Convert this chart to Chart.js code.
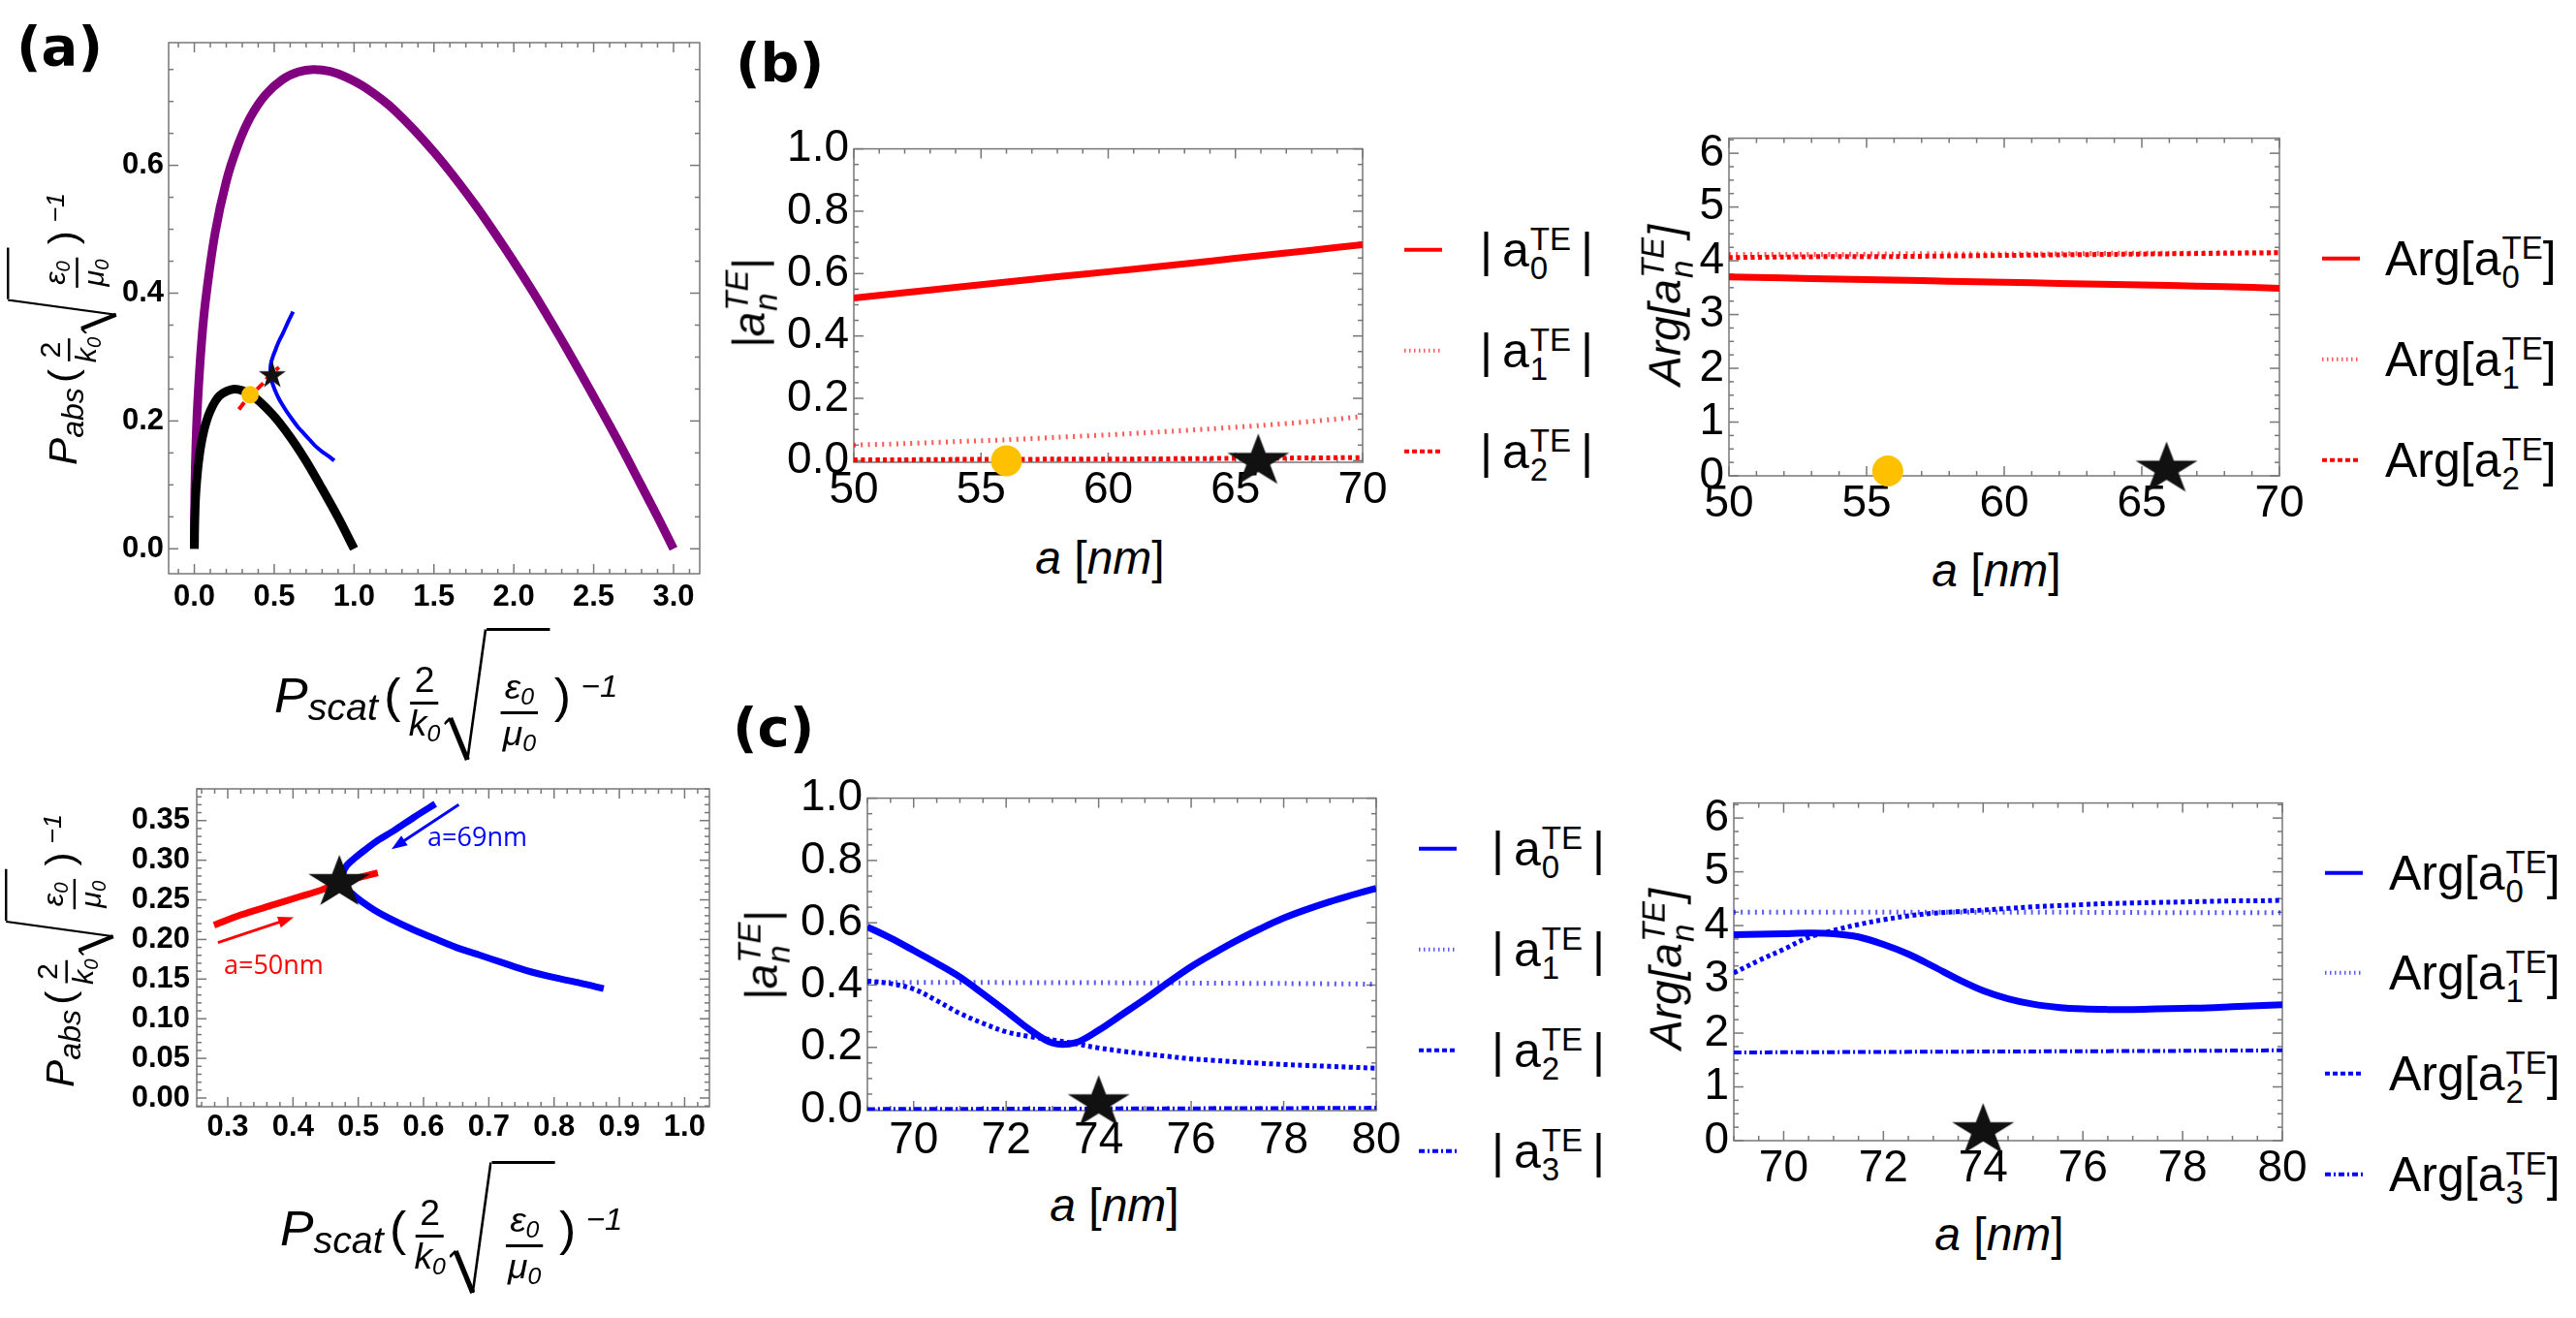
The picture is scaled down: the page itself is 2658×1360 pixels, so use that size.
<!DOCTYPE html>
<html>
<head>
<meta charset="utf-8">
<title>Scattering / absorption and TE coefficients</title>
<script src="https://cdn.jsdelivr.net/npm/chart.js@4.4.1/dist/chart.umd.min.js"></script>
<style>
html, body { margin: 0; padding: 0; background: #fff; }
#page { position: relative; width: 2658px; height: 1360px; overflow: hidden; font-family: "Liberation Sans", Arial, sans-serif; color: #000; }
canvas { position: absolute; }
.plabel { position: absolute; font-family: "DejaVu Sans", sans-serif; font-weight: bold; font-size: 56px; line-height: 1; }
.xt { position: absolute; font-size: 48px; line-height: 1; white-space: nowrap; transform: translate(-50%, -50%); }
.yt { position: absolute; font-size: 46px; line-height: 1; white-space: nowrap; font-style: italic; transform: translate(-50%, -50%) rotate(-90deg); }
.ss { display: inline-flex; flex-direction: column; vertical-align: middle; font-size: 33px; line-height: 0.92; margin-left: 1px; }
.leg { position: absolute; display: flex; align-items: center; white-space: nowrap; font-size: 50px; line-height: 1; transform: translateY(-50%); }
.leg svg { display: block; flex: none; }
.leg .txt { position: relative; top: 4px; }
.mt { position: absolute; left: 0; top: 0; transform-origin: 0 0; display: inline-flex; align-items: center; white-space: nowrap; font-style: italic; font-size: 50px; line-height: 1; height: 140px; }
.mSub { font-size: 38px; position: relative; top: 12px; margin-right: 2px; }
.mPar { font-style: normal; margin: 0 4px; }
.mFrac { display: inline-flex; flex-direction: column; align-items: center; font-size: 36px; line-height: 1.1; font-style: normal; margin: 0 4px; position: relative; top: 8px; }
.mFrac i { font-style: italic; }
.mFrac sub { font-size: 24px; vertical-align: -6px; font-style: italic; }
.mNum { border-bottom: 3px solid #000; padding: 0 4px 2px; }
.mSqrt { display: inline-flex; height: 140px; align-items: stretch; }
.mSqrt svg { display: block; fill: none; stroke: #000; stroke-width: 2.5; }
.mSqrt .thick { stroke-width: 5; }
.mRad { border-top: 3px solid #000; display: flex; align-items: center; padding: 30px 8px 0 10px; }
.mRad .mFrac { top: 0; }
.mExp { align-self: flex-start; margin-top: 44px; font-size: 32px; margin-left: 6px; }
</style>
</head>
<body>
<div id="page">
  <canvas id="chartA1"></canvas>
  <canvas id="chartA2"></canvas>
  <canvas id="chartB1"></canvas>
  <canvas id="chartB2"></canvas>
  <canvas id="chartC1"></canvas>
  <canvas id="chartC2"></canvas>

  <div class="plabel" style="left:17px; top:20px;">(a)</div>
  <div class="plabel" style="left:759px; top:37px;">(b)</div>
  <div class="plabel" style="left:756px; top:723px;">(c)</div>

  <div class="mt" id="titleA1x"></div>
  <div class="mt" id="titleA1y"></div>
  <div class="mt" id="titleA2x"></div>
  <div class="mt" id="titleA2y"></div>

  <div class="xt" style="left:1135px; top:576px;"><i>a</i> [<i>nm</i>]</div>
  <div class="xt" style="left:2060px; top:589px;"><i>a</i> [<i>nm</i>]</div>
  <div class="xt" style="left:1150px; top:1244px;"><i>a</i> [<i>nm</i>]</div>
  <div class="xt" style="left:2063px; top:1274px;"><i>a</i> [<i>nm</i>]</div>

  <div class="yt" style="left:776px; top:313px;">|a<span class="ss"><span>TE</span><span>n</span></span>|</div>
  <div class="yt" style="left:1721px; top:315px;">Arg[a<span class="ss"><span>TE</span><span>n</span></span>]</div>
  <div class="yt" style="left:789px; top:986px;">|a<span class="ss"><span>TE</span><span>n</span></span>|</div>
  <div class="yt" style="left:1722px; top:1000px;">Arg[a<span class="ss"><span>TE</span><span>n</span></span>]</div>

  <div id="legends"></div>
</div>

<script>
// ---- panel (a), upper: bounds and the two trajectories ----
var outerBoundX = [0, 0.003, 0.01, 0.02, 0.043, 0.07, 0.129, 0.2, 0.272, 0.35, 0.444, 0.55, 0.65, 0.744, 0.85, 0.95, 1.074, 1.25, 1.503, 1.75, 1.932, 2.1, 2.219, 2.35, 2.505, 2.65, 2.79, 2.9, 3.0];
var outerBoundY = [0, 0.09, 0.163, 0.225, 0.316, 0.388, 0.493, 0.575, 0.631, 0.675, 0.71, 0.734, 0.746, 0.75, 0.747, 0.738, 0.721, 0.687, 0.62, 0.541, 0.475, 0.41, 0.361, 0.305, 0.236, 0.17, 0.103, 0.05, 0];
var innerBoundX = [0, 0.002, 0.01, 0.03, 0.06, 0.1, 0.16, 0.25, 0.36, 0.49, 0.6, 0.7, 0.8, 0.9, 1.0];
var innerBoundY = [0, 0.043, 0.09, 0.143, 0.185, 0.216, 0.24, 0.25, 0.24, 0.21, 0.175, 0.137, 0.094, 0.049, 0];

// trajectory for a = 50..69 nm (red) and a = 69..80 nm (blue)
var redPathX = [0.279, 0.32, 0.371, 0.41, 0.442, 0.471, 0.5, 0.53];
var redPathY = [0.218, 0.231, 0.244, 0.254, 0.262, 0.272, 0.278, 0.284];
var bluePathX = [0.618, 0.585, 0.554, 0.53, 0.512, 0.495, 0.482, 0.476, 0.478, 0.49, 0.505, 0.525, 0.547, 0.58, 0.617, 0.65, 0.687, 0.72, 0.757, 0.8, 0.84, 0.876];
var bluePathY = [0.371, 0.354, 0.337, 0.325, 0.314, 0.303, 0.293, 0.282, 0.268, 0.258, 0.248, 0.237, 0.227, 0.214, 0.201, 0.19, 0.18, 0.171, 0.161, 0.152, 0.145, 0.138];

var dotA = [0.349, 0.241];
var starA1 = [0.488, 0.273];
var starA2 = [0.471, 0.275];

var noteRedArrow = [[0.285, 0.196], [0.401, 0.228]];
var noteBlueArrow = [[0.654, 0.370], [0.551, 0.314]];
var noteRedText = ['a=50nm', 0.294, 0.166];
var noteBlueText = ['a=69nm', 0.606, 0.327];

// ---- panel (b): a = 50..70 nm ----
var sizeB = [50, 52, 54, 56, 58, 60, 62, 64, 66, 68, 70];
var absA0B = [0.522, 0.539, 0.556, 0.573, 0.590, 0.606, 0.623, 0.640, 0.658, 0.675, 0.693];
var absA1B = [0.050, 0.055, 0.061, 0.067, 0.075, 0.083, 0.092, 0.102, 0.113, 0.126, 0.142];
var absA2B = [0.003, 0.003, 0.004, 0.004, 0.005, 0.005, 0.006, 0.007, 0.008, 0.009, 0.010];
var argA0B = [3.70, 3.68, 3.66, 3.64, 3.62, 3.60, 3.58, 3.56, 3.54, 3.52, 3.49];
var argA1B = [4.12, 4.12, 4.12, 4.13, 4.13, 4.13, 4.13, 4.14, 4.14, 4.15, 4.15];
var argA2B = [4.06, 4.07, 4.08, 4.08, 4.09, 4.10, 4.11, 4.12, 4.13, 4.14, 4.15];
var dotB1 = [56.0, 0.0];
var starB1 = [65.9, 0.006];
var dotB2 = [55.77, 0.09];
var starB2 = [65.9, 0.17];

// ---- panel (c): a = 69..80 nm ----
var sizeC = [69, 69.5, 70, 70.5, 71, 71.5, 72, 72.5, 73, 73.5, 74, 74.5, 75, 75.5, 76, 76.5, 77, 77.5, 78, 78.5, 79, 79.5, 80];
var sizeCFlat = [69, 72, 75, 78, 80];
var absA0C = [0.587, 0.551, 0.511, 0.470, 0.426, 0.372, 0.316, 0.258, 0.214, 0.215, 0.255, 0.305, 0.355, 0.408, 0.459, 0.503, 0.544, 0.581, 0.615, 0.643, 0.668, 0.690, 0.711];
var absA1C = [0.409, 0.408, 0.407, 0.405, 0.403];
var absA2C = [0.413, 0.405, 0.387, 0.350, 0.309, 0.277, 0.250, 0.235, 0.224, 0.212, 0.198, 0.188, 0.179, 0.171, 0.163, 0.158, 0.153, 0.149, 0.145, 0.142, 0.139, 0.136, 0.133];
var absA3C = [0.002, 0.003, 0.004, 0.005, 0.006];
var argA0C = [3.83, 3.84, 3.85, 3.86, 3.85, 3.79, 3.65, 3.47, 3.24, 3.00, 2.79, 2.64, 2.54, 2.48, 2.45, 2.44, 2.44, 2.45, 2.46, 2.47, 2.49, 2.51, 2.53];
var argA1C = [4.25, 4.25, 4.25, 4.24, 4.24];
var argA2C = [3.12, 3.35, 3.56, 3.78, 3.91, 4.02, 4.11, 4.18, 4.23, 4.26, 4.29, 4.32, 4.35, 4.37, 4.39, 4.41, 4.42, 4.43, 4.44, 4.45, 4.46, 4.46, 4.47];
var argA3C = [1.64, 1.65, 1.66, 1.67, 1.68];
var starC1 = [74.0, 0.03];
var starC2 = [74.0, 0.23];

// ---- ticks ----
var ticksA1X = [0, 0.5, 1, 1.5, 2, 2.5, 3];
var labelsA1X = ['0.0', '0.5', '1.0', '1.5', '2.0', '2.5', '3.0'];
var ticksA1Y = [0, 0.2, 0.4, 0.6];
var labelsA1Y = ['0.0', '0.2', '0.4', '0.6'];
var ticksA2X = [0.3, 0.4, 0.5, 0.6, 0.7, 0.8, 0.9, 1.0];
var labelsA2X = ['0.3', '0.4', '0.5', '0.6', '0.7', '0.8', '0.9', '1.0'];
var ticksA2Y = [0, 0.05, 0.1, 0.15, 0.2, 0.25, 0.3, 0.35];
var labelsA2Y = ['0.00', '0.05', '0.10', '0.15', '0.20', '0.25', '0.30', '0.35'];
var ticksBX = [50, 55, 60, 65, 70];
var labelsBX = ['50', '55', '60', '65', '70'];
var ticksCX = [70, 72, 74, 76, 78, 80];
var labelsCX = ['70', '72', '74', '76', '78', '80'];
var ticksAbsY = [0, 0.2, 0.4, 0.6, 0.8, 1.0];
var labelsAbsY = ['0.0', '0.2', '0.4', '0.6', '0.8', '1.0'];
var ticksArgY = [0, 1, 2, 3, 4, 5, 6];
var labelsArgY = ['0', '1', '2', '3', '4', '5', '6'];

var legendAbsB = ['0', '1', '2'];
var legendAbsC = ['0', '1', '2', '3'];

// ---------------------------------------------------------------
var RED = '#ff0000', RED_LIGHT = 'rgba(255,0,0,0.65)';
var BLUE = '#0000ff', BLUE_LIGHT = 'rgba(0,0,255,0.65)';
var PURPLE = '#800080', GOLD = '#ffc000';
var DOTTED = [2, 5.3], DASHED = [4, 3.5], DASHDOT = [8, 3, 2, 3];

function pts(xs, ys) {
  return xs.map(function (x, i) { return { x: x, y: ys[i] }; });
}

function lineSet(xs, ys, color, width, dash, tension) {
  return {
    data: pts(xs, ys), showLine: true, borderColor: color, borderWidth: width,
    borderDash: dash || [], borderCapStyle: 'butt', pointRadius: 0, pointHoverRadius: 0,
    fill: false, tension: tension || 0
  };
}

function starImage(width, squash) {
  var R = width / (2 * Math.sin(72 * Math.PI / 180));
  var c = document.createElement('canvas');
  c.width = Math.ceil(width) + 2;
  c.height = Math.ceil(R * (1 + Math.cos(36 * Math.PI / 180)) * squash) + 2;
  var g = c.getContext('2d');
  g.fillStyle = '#111';
  g.translate(c.width / 2, 1 + R * squash);
  g.scale(1, squash);
  g.beginPath();
  for (var k = 0; k < 10; k++) {
    var r = k % 2 ? R * 0.382 : R;
    var ang = -Math.PI / 2 + k * Math.PI / 5;
    g.lineTo(r * Math.cos(ang), r * Math.sin(ang));
  }
  g.closePath();
  g.fill();
  return c;
}

var bigStar = starImage(64, 0.85);
var smallStar = starImage(28, 1);

function starSet(p, img) {
  return { data: [{ x: p[0], y: p[1] }], pointStyle: img, pointRadius: 10, clip: false, showLine: false };
}
function dotSet(p, r) {
  return { data: [{ x: p[0], y: p[1] }], pointStyle: 'circle', pointRadius: r, backgroundColor: GOLD,
    borderWidth: 0, clip: false, showLine: false };
}

// frame with inward Mathematica-like ticks on all four sides
var frameTicks = {
  id: 'frameTicks',
  beforeDatasetsDraw: function (chart, args, o) {
    var ctx = chart.ctx, a = chart.chartArea, xs = chart.scales.x, ys = chart.scales.y;
    ctx.save();
    ctx.strokeStyle = '#777';
    ctx.lineWidth = 1.5;
    ctx.strokeRect(a.left, a.top, a.right - a.left, a.bottom - a.top);
    function seg(x1, y1, x2, y2) { ctx.beginPath(); ctx.moveTo(x1, y1); ctx.lineTo(x2, y2); ctx.stroke(); }
    function xt(v, len) { var p = xs.getPixelForValue(v); seg(p, a.bottom, p, a.bottom - len); seg(p, a.top, p, a.top + len); }
    function yt(v, len) { var p = ys.getPixelForValue(v); seg(a.left, p, a.left + len, p); seg(a.right, p, a.right - len, p); }
    function minors(scale, step, fn) {
      var majors = scale.ticks.map(function (t) { return t.value; });
      for (var k = Math.ceil(scale.min / step - 1e-9); k * step <= scale.max + 1e-9; k++) {
        var v = k * step;
        if (majors.some(function (m) { return Math.abs(m - v) < step / 10; })) continue;
        fn(v, 5);
      }
    }
    xs.ticks.forEach(function (t) { xt(t.value, 10); });
    ys.ticks.forEach(function (t) { yt(t.value, 10); });
    minors(xs, o.xMinor, xt);
    minors(ys, o.yMinor, yt);
    ctx.restore();
  }
};

// arrows and labels placed in data coordinates
var notes = {
  id: 'notes',
  afterDatasetsDraw: function (chart, args, o) {
    if (!o || !o.items) return;
    var ctx = chart.ctx, xs = chart.scales.x, ys = chart.scales.y;
    o.items.forEach(function (n) {
      ctx.save();
      ctx.strokeStyle = n.color;
      ctx.fillStyle = n.color;
      if (n.arrow) {
        var x1 = xs.getPixelForValue(n.arrow[0][0]), y1 = ys.getPixelForValue(n.arrow[0][1]);
        var x2 = xs.getPixelForValue(n.arrow[1][0]), y2 = ys.getPixelForValue(n.arrow[1][1]);
        var ang = Math.atan2(y2 - y1, x2 - x1), hl = 16, hw = 6;
        ctx.lineWidth = 3;
        ctx.beginPath();
        ctx.moveTo(x1, y1);
        ctx.lineTo(x2 - hl * 0.8 * Math.cos(ang), y2 - hl * 0.8 * Math.sin(ang));
        ctx.stroke();
        ctx.beginPath();
        ctx.moveTo(x2, y2);
        ctx.lineTo(x2 - hl * Math.cos(ang) + hw * Math.sin(ang), y2 - hl * Math.sin(ang) - hw * Math.cos(ang));
        ctx.lineTo(x2 - hl * Math.cos(ang) - hw * Math.sin(ang), y2 - hl * Math.sin(ang) + hw * Math.cos(ang));
        ctx.closePath();
        ctx.fill();
      } else {
        ctx.font = '27px "Open Sans", "Liberation Sans", sans-serif';
        ctx.textBaseline = 'middle';
        ctx.fillText(n.text[0], xs.getPixelForValue(n.text[1]), ys.getPixelForValue(n.text[2]));
      }
      ctx.restore();
    });
  }
};

function makePanel(id, p, datasets, notesItems) {
  var cv = document.getElementById(id);
  var w = (p.box[2] - p.box[0]) + p.yW + p.padR;
  var h = (p.box[3] - p.box[1]) + p.padT + p.xH;
  cv.width = w; cv.height = h;
  cv.style.width = w + 'px'; cv.style.height = h + 'px';
  cv.style.left = (p.box[0] - p.yW) + 'px';
  cv.style.top = (p.box[1] - p.padT) + 'px';
  function axis(range, ticks, labels, pad, isX) {
    return {
      type: 'linear', min: range[0], max: range[1],
      grid: { display: false, drawTicks: false }, border: { display: false },
      afterBuildTicks: function (s) { s.ticks = ticks.map(function (v) { return { value: v }; }); },
      afterFit: function (s) { if (isX) s.height = p.xH; else s.width = p.yW; },
      ticks: {
        autoSkip: false, maxRotation: 0, minRotation: 0, padding: pad, color: '#000', font: p.font,
        callback: function (v, i) { return labels[i]; }
      }
    };
  }
  return new Chart(cv, {
    type: 'scatter',
    data: { datasets: datasets },
    options: {
      responsive: false, animation: false, devicePixelRatio: 1,
      layout: { padding: { left: 0, top: p.padT, right: p.padR, bottom: 0 } },
      plugins: {
        legend: { display: false }, tooltip: { enabled: false },
        frameTicks: { xMinor: p.xMinor, yMinor: p.yMinor },
        notes: { items: notesItems || null }
      },
      scales: {
        x: axis(p.xr, p.xTicks, p.xLabels, p.xPad, true),
        y: axis(p.yr, p.yTicks, p.yLabels, p.yPad, false)
      }
    },
    plugins: [frameTicks, notes]
  });
}

var boldFont = { family: 'Liberation Sans', size: 31, weight: 'bold' };
var plainFont = { family: 'Liberation Sans', size: 46 };

makePanel('chartA1', {
  box: [174, 44, 722, 592], yW: 100, padT: 30, padR: 40, xH: 60,
  xr: [-0.161, 3.164], yr: [-0.039, 0.792], xTicks: ticksA1X, xLabels: labelsA1X,
  yTicks: ticksA1Y, yLabels: labelsA1Y, xMinor: 0.1, yMinor: 0.05, xPad: 6, yPad: 5, font: boldFont
}, [
  starSet(starA1, smallStar),
  dotSet(dotA, 9),
  lineSet(redPathX, redPathY, RED, 4, [9, 5], 0.3),
  lineSet(bluePathX, bluePathY, BLUE, 4, [], 0.3),
  lineSet(innerBoundX, innerBoundY, '#000', 9, [], 0.3),
  lineSet(outerBoundX, outerBoundY, PURPLE, 9, [], 0.3)
]);

makePanel('chartA2', {
  box: [203, 814, 732, 1142], yW: 110, padT: 30, padR: 40, xH: 60,
  xr: [0.2525, 1.038], yr: [-0.011, 0.390], xTicks: ticksA2X, xLabels: labelsA2X,
  yTicks: ticksA2Y, yLabels: labelsA2Y, xMinor: 0.02, yMinor: 0.01, xPad: 3, yPad: 7, font: boldFont
}, [
  starSet(starA2, bigStar),
  lineSet(redPathX, redPathY, RED, 7, [], 0.3),
  lineSet(bluePathX, bluePathY, BLUE, 7, [], 0.3)
], [
  { arrow: noteRedArrow, color: RED },
  { arrow: noteBlueArrow, color: BLUE },
  { text: noteRedText, color: RED },
  { text: noteBlueText, color: BLUE }
]);

makePanel('chartB1', {
  box: [881, 151, 1406, 477], yW: 110, padT: 30, padR: 40, xH: 70,
  xr: [50, 70], yr: [-0.005, 1.0], xTicks: ticksBX, xLabels: labelsBX,
  yTicks: ticksAbsY, yLabels: labelsAbsY, xMinor: 1, yMinor: 0.05, xPad: 2, yPad: 5, font: plainFont
}, [
  starSet(starB1, bigStar),
  dotSet(dotB1, 16),
  lineSet(sizeB, absA0B, RED, 7, [], 0.3),
  lineSet(sizeB, absA1B, RED_LIGHT, 5, DOTTED, 0.3),
  lineSet(sizeB, absA2B, RED, 5, DASHED, 0.3)
]);

makePanel('chartB2', {
  box: [1784, 140, 2352, 491], yW: 110, padT: 30, padR: 40, xH: 70,
  xr: [50, 70], yr: [0, 6.28], xTicks: ticksBX, xLabels: labelsBX,
  yTicks: ticksArgY, yLabels: labelsArgY, xMinor: 1, yMinor: 0.25, xPad: 2, yPad: 5, font: plainFont
}, [
  starSet(starB2, bigStar),
  dotSet(dotB2, 16),
  lineSet(sizeB, argA0B, RED, 7, [], 0.3),
  lineSet(sizeB, argA1B, RED_LIGHT, 5, DOTTED, 0.3),
  lineSet(sizeB, argA2B, RED, 5, DASHED, 0.3)
]);

makePanel('chartC1', {
  box: [895, 821, 1420, 1146], yW: 110, padT: 30, padR: 40, xH: 70,
  xr: [69, 80], yr: [-0.003, 1.0], xTicks: ticksCX, xLabels: labelsCX,
  yTicks: ticksAbsY, yLabels: labelsAbsY, xMinor: 0.5, yMinor: 0.05, xPad: 4, yPad: 5, font: plainFont
}, [
  starSet(starC1, bigStar),
  lineSet(sizeC, absA0C, BLUE, 7, [], 0.35),
  lineSet(sizeCFlat, absA1C, BLUE_LIGHT, 5, DOTTED, 0.3),
  lineSet(sizeC, absA2C, BLUE, 5, DASHED, 0.35),
  lineSet(sizeCFlat, absA3C, BLUE, 4, DASHDOT, 0.3)
]);

makePanel('chartC2', {
  box: [1789, 826, 2355, 1177], yW: 110, padT: 30, padR: 40, xH: 70,
  xr: [69, 80], yr: [0, 6.28], xTicks: ticksCX, xLabels: labelsCX,
  yTicks: ticksArgY, yLabels: labelsArgY, xMinor: 0.5, yMinor: 0.25, xPad: 2, yPad: 5, font: plainFont
}, [
  starSet(starC2, bigStar),
  lineSet(sizeC, argA0C, BLUE, 7, [], 0.35),
  lineSet(sizeCFlat, argA1C, BLUE_LIGHT, 5, DOTTED, 0.3),
  lineSet(sizeC, argA2C, BLUE, 5, DASHED, 0.35),
  lineSet(sizeCFlat, argA3C, BLUE, 4, DASHDOT, 0.3)
]);

// ---- axis titles of panel (a): P(2/k0 sqrt(eps0/mu0))^-1 ----
function powerTitle(sub) {
  return '<span class="mP">P</span><span class="mSub">' + sub + '</span>' +
    '<span class="mPar">(</span>' +
    '<span class="mFrac"><span class="mNum">2</span><span><i>k</i><sub>0</sub></span></span>' +
    '<span class="mSqrt"><svg width="42" height="140" viewBox="0 0 42 140">' +
    '<polyline points="0,99 6,93"/><polyline class="thick" points="6,93 23,136"/><polyline points="23,136 41,1.5"/></svg>' +
    '<span class="mRad"><span class="mFrac"><span class="mNum"><i>ε</i><sub>0</sub></span>' +
    '<span><i>μ</i><sub>0</sub></span></span></span></span>' +
    '<span class="mPar">)</span><span class="mExp">−1</span>';
}

function fitBox(id, sub, box, rotated) {
  var el = document.getElementById(id);
  el.innerHTML = powerTitle(sub);
  var w = el.offsetWidth, h = el.offsetHeight;
  var bw = box[2] - box[0], bh = box[3] - box[1];
  if (rotated) {
    el.style.transform = 'translate(' + box[0] + 'px,' + box[3] + 'px) rotate(-90deg) scale(' + (bh / w) + ',' + (bw / h) + ')';
  } else {
    el.style.transform = 'translate(' + box[0] + 'px,' + box[1] + 'px) scale(' + (bw / w) + ',' + (bh / h) + ')';
  }
}
fitBox('titleA1x', 'scat', [283, 648, 637, 788], false);
fitBox('titleA1y', 'abs', [7, 199, 123, 480], true);
fitBox('titleA2x', 'scat', [289, 1198, 642, 1338], false);
fitBox('titleA2y', 'abs', [5, 840, 120, 1122], true);

// ---- legends ----
function sample(color, width, dash) {
  return '<svg width="39" height="12" viewBox="0 0 39 12"><line x1="0" y1="6" x2="39" y2="6" stroke="' + color +
    '" stroke-width="' + width + '" stroke-dasharray="' + (dash || 'none') + '"/></svg>';
}
var styleRed = [[RED, 4, ''], [RED_LIGHT, 4, '1.5 3.5'], [RED, 4, '5 3']];
var styleBlue = [[BLUE, 4, ''], [BLUE_LIGHT, 4, '1.5 3.5'], [BLUE, 4, '5 3'], [BLUE, 4, '6 3 2 3']];

function legend(left, rows, gap, styles, orders, arg) {
  var html = '';
  orders.forEach(function (n, i) {
    var s = styles[i];
    var inner = 'a<span class="ss"><span>TE</span><span>' + n + '</span></span>';
    var txt = arg ? 'Arg[' + inner + ']' : '|&#8201;' + inner + '&#8201;|';
    html += '<div class="leg" style="left:' + left + 'px; top:' + rows[i] + 'px;">' + sample(s[0], s[1], s[2]) +
      '<span class="txt" style="margin-left:' + gap + 'px">' + txt + '</span></div>';
  });
  return html;
}
document.getElementById('legends').innerHTML =
  legend(1449, [258, 362, 466], 39, styleRed, legendAbsB, false) +
  legend(2396, [267, 371, 475], 26, styleRed, legendAbsB, true) +
  legend(1464, [876, 980, 1084, 1188], 36, styleBlue, legendAbsC, false) +
  legend(2399, [901, 1004, 1108, 1212], 27, styleBlue, legendAbsC, true);
</script>
</body>
</html>
